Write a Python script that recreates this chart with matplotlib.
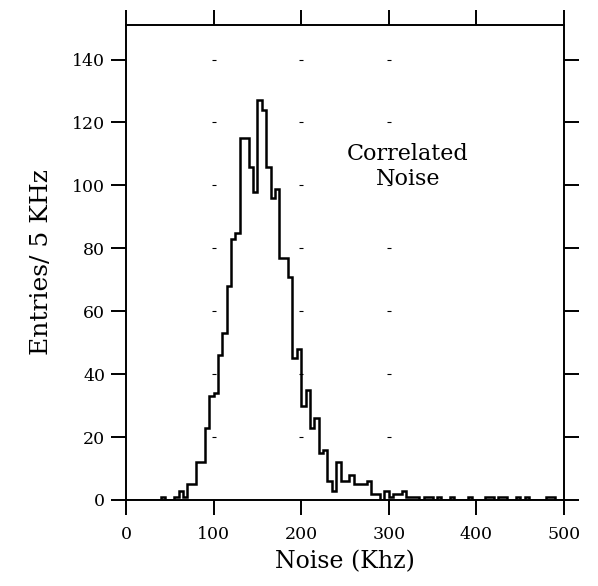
import numpy as np
import matplotlib
matplotlib.use("Agg")
import matplotlib.pyplot as plt

# -------------------------
# Data: entries per 5 kHz bin, 0-500 kHz
# -------------------------
bin_width = 5
bin_start = np.arange(0, 500, bin_width)
entries = [
    0, 0, 0, 0, 0, 0, 0, 0,          # 0-35
    1, 0, 0, 1, 3, 1, 5, 5,          # 40-75
    12, 12, 23, 33, 34, 46, 53, 68,  # 80-115
    83, 85, 115, 115, 106, 98, 127, 124,  # 120-155
    106, 96, 99, 77, 77, 71, 45, 48,  # 160-195
    30, 35, 23, 26, 15, 16, 6, 3,    # 200-235
    12, 6, 6, 8, 5, 5, 5, 6,         # 240-275
    2, 2, 0, 3, 1, 2, 2, 3,          # 280-315
    1, 1, 1, 0, 1, 1, 0, 1,          # 320-355
    0, 0, 1, 0, 0, 0, 1, 0,          # 360-395
    0, 0, 1, 1, 0, 1, 1, 0,          # 400-435
    0, 1, 0, 1, 0, 0, 0, 0,          # 440-475
    1, 1, 0, 0,                      # 480-495
]

x_ticks = [0, 100, 200, 300, 400, 500]
y_ticks = [0, 20, 40, 60, 80, 100, 120, 140]
grid_x = [100, 200, 300]
grid_y = [20, 40, 60, 80, 100, 120, 140]

# -------------------------
# Plot
# -------------------------
plt.rcParams['font.family'] = ['DejaVu Serif']

fig = plt.figure(figsize=(5.98, 5.86), dpi=100)
ax = fig.add_axes([0.2107, 0.1468, 0.7324, 0.8106])

edges = np.append(bin_start, bin_start[-1] + bin_width)
ax.stairs(entries, edges, color='black', linewidth=1.8)

# faint grid marks
gx, gy = np.meshgrid(grid_x, grid_y)
ax.plot(gx.ravel(), gy.ravel(), linestyle='none', marker='_',
        markersize=3, markeredgewidth=0.8, color='black')

ax.set_xlim(0, 500)
ax.set_ylim(0, 151)
ax.set_xticks(x_ticks)
ax.set_yticks(y_ticks)

for s in ax.spines.values():
    s.set_linewidth(1.4)

ax.tick_params(axis='both', direction='out', length=11, width=1.4,
               labelsize=12.5, top=True, right=True)
ax.tick_params(axis='x', pad=8)
ax.tick_params(axis='y', pad=4)

ax.set_xlabel("Noise (Khz)", fontsize=17, labelpad=5)
ax.set_ylabel("Entries/ 5 KHz", fontsize=18, labelpad=14)

ax.text(322, 106, "Correlated\nNoise", fontsize=16, ha='center',
        va='center', linespacing=1.15)

fig.savefig("out.png", dpi=100)
